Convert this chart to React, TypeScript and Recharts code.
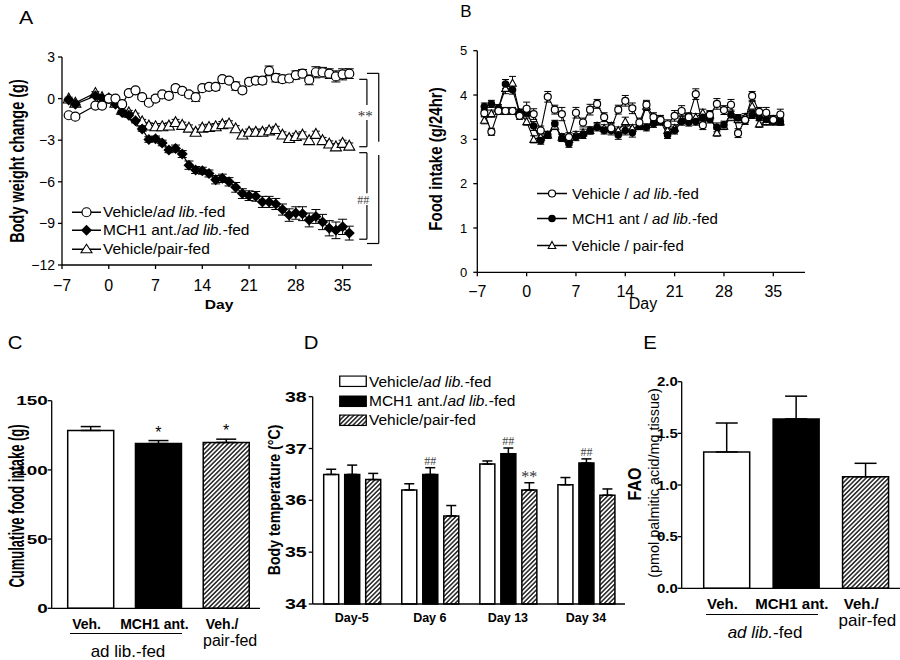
import React from 'react';
import {
  LineChart, Line, BarChart, Bar, XAxis, YAxis, ErrorBar,
  ReferenceLine, ReferenceDot, LabelList, Cell,
} from 'recharts';

const FONT = '"Liberation Sans", Arial, Helvetica, sans-serif';
const SERIF = '"Liberation Serif", "Times New Roman", serif';

// ---------- A: body weight change (g) ----------
const daysA = [-6, -5, -2, -1, 0, 1, 2, 3, 4, 5, 6, 7, 8, 9, 10, 11, 12, 13, 14, 15, 16, 17, 18, 19, 20,
  21, 22, 23, 24, 25, 26, 27, 28, 29, 30, 31, 32, 33, 34, 35, 36];
const vehWeight = [-1.2, -1.3, -0.5, -0.5, 0,
  0, -0.4, 0.4, 0.6, 0.1, -0.3, 0, 0.3, 0.2, 0.75,
  0.55, 0.3, 0.1, 0.75, 0.85, 0.85, 1.4, 1.3, 0.9, 0.6,
  1.2, 1.3, 1.3, 2.0, 1.5, 1.4, 1.45, 1.7, 1.8, 1.35,
  1.9, 1.9, 1.8, 1.6, 1.75, 1.8];
const vehWeightErr = [0.1, 0.1, 0.1, 0.1, 0.05,
  0.1, 0.15, 0.15, 0.15, 0.15, 0.15, 0.2, 0.2, 0.2, 0.2,
  0.2, 0.2, 0.3, 0.2, 0.2, 0.25, 0.2, 0.2, 0.3, 0.2,
  0.2, 0.25, 0.25, 0.35, 0.3, 0.25, 0.25, 0.3, 0.3, 0.35,
  0.4, 0.35, 0.35, 0.4, 0.4, 0.35];
const mchWeight = [-0.1, -0.4, 0.2, 0, 0,
  -0.4, -1.0, -1.2, -1.6, -2.2, -2.95, -2.9, -3.2, -3.7, -3.6,
  -4.0, -4.8, -5.15, -5.2, -5.4, -5.85, -5.75, -6.0, -6.4, -6.85,
  -7.0, -7.05, -7.45, -7.45, -7.6, -8.0, -8.4, -8.25, -8.3, -8.75,
  -8.5, -8.9, -9.35, -9.5, -9.25, -9.7];
const mchWeightErr = [0.1, 0.1, 0.1, 0.1, 0.05,
  0.1, 0.15, 0.15, 0.15, 0.15, 0.2, 0.2, 0.2, 0.2, 0.25,
  0.25, 0.3, 0.25, 0.25, 0.25, 0.3, 0.3, 0.3, 0.35, 0.35,
  0.35, 0.35, 0.4, 0.4, 0.4, 0.4, 0.45, 0.45, 0.5, 0.5,
  0.5, 0.55, 0.55, 0.6, 0.55, 0.5];
const pairWeight = [0, -0.3, 0.4, 0.1, 0,
  -0.3, -0.8, -1.0, -1.2, -1.65, -1.95, -2.0, -2.0, -1.95, -1.7,
  -1.9, -2.1, -2.4, -2.1, -2.05, -2.0, -1.85, -1.8, -2.15, -2.6,
  -2.4, -2.4, -2.4, -2.3, -2.2, -2.6, -2.85, -2.7, -2.6, -3.0,
  -2.55, -3.0, -3.25, -3.45, -3.2, -3.4];
const pairWeightErr = [0.1, 0.1, 0.1, 0.1, 0.05,
  0.1, 0.15, 0.15, 0.15, 0.15, 0.2, 0.2, 0.2, 0.2, 0.2,
  0.2, 0.2, 0.2, 0.2, 0.2, 0.2, 0.2, 0.2, 0.2, 0.2,
  0.2, 0.2, 0.2, 0.2, 0.2, 0.2, 0.2, 0.2, 0.2, 0.2,
  0.2, 0.2, 0.2, 0.2, 0.2, 0.2];
const dayTicks = [-7, 0, 7, 14, 21, 28, 35];
const weightTicks = [-12, -9, -6, -3, 0, 3];

// ---------- B: food intake (g/24hr) ----------
const daysB = [-6, -5, -4, -3, -2, -1, 0, 1, 2, 3, 4, 5, 6, 7, 8, 9, 10, 11, 12, 13, 14, 15, 16, 17, 18, 19, 20,
  21, 22, 23, 24, 25, 26, 27, 28, 29, 30, 31, 32, 33, 34, 35, 36];
const vehIntake = [3.59, 3.17, 3.64, 3.64, 3.64, 3.53, 3.69,
  3.57, 3.2, 3.96, 3.67, 3.57, 3.05, 3.6, 3.38, 3.67, 3.8,
  3.5, 3.25, 3.67, 3.87, 3.7, 3.38, 3.78, 3.5, 3.44, 3.34,
  3.53, 3.64, 3.5, 4.02, 3.32, 3.55, 3.8, 3.66, 3.78, 3.14,
  3.44, 3.98, 3.62, 3.6, 3.44, 3.56];
const vehIntakeErr = [0.08, 0.08, 0.08, 0.08, 0.08, 0.08, 0.15,
  0.12, 0.1, 0.12, 0.1, 0.15, 0.1, 0.12, 0.1, 0.12, 0.1,
  0.1, 0.1, 0.1, 0.12, 0.12, 0.1, 0.1, 0.1, 0.1, 0.1,
  0.12, 0.12, 0.1, 0.12, 0.1, 0.1, 0.12, 0.1, 0.12, 0.1,
  0.1, 0.1, 0.1, 0.12, 0.1, 0.12];
const mchIntake = [3.74, 3.8, 3.7, 4.25, 4.12, 3.6, 3.6,
  3.3, 2.97, 3.1, 3.35, 3.03, 2.9, 3.05, 3.1, 3.2, 3.27,
  3.2, 3.2, 3.1, 3.2, 3.15, 3.3, 3.27, 3.35, 3.4, 3.1,
  3.2, 3.4, 3.38, 3.4, 3.5, 3.45, 3.27, 3.33, 3.55, 3.48,
  3.42, 3.55, 3.5, 3.45, 3.4, 3.4];
const mchIntakeErr = [0.08, 0.08, 0.08, 0.1, 0.1, 0.08, 0.08,
  0.1, 0.08, 0.08, 0.08, 0.08, 0.08, 0.08, 0.08, 0.08, 0.08,
  0.08, 0.1, 0.1, 0.1, 0.1, 0.08, 0.08, 0.08, 0.08, 0.08,
  0.08, 0.08, 0.08, 0.08, 0.08, 0.08, 0.1, 0.08, 0.08, 0.08,
  0.08, 0.08, 0.08, 0.08, 0.08, 0.08];
const pairIntake = [3.43, 3.58, 3.7, 4.15, 4.27, 3.6, 3.4,
  3.0, 3.05, 3.1, 3.3, 3.05, 3.0, 3.1, 3.15, 3.2, 3.3,
  3.25, 3.3, 3.2, 3.4, 3.25, 3.3, 3.75, 3.4, 3.45, 3.2,
  3.25, 3.45, 3.5, 3.5, 3.6, 3.55, 3.15, 3.3, 3.5, 3.45,
  3.5, 3.75, 3.35, 3.4, 3.45, 3.4];
const pairIntakeErr = [0.08, 0.08, 0.08, 0.12, 0.15, 0.08, 0.08,
  0.08, 0.08, 0.08, 0.08, 0.08, 0.08, 0.08, 0.08, 0.08, 0.08,
  0.08, 0.08, 0.08, 0.1, 0.08, 0.08, 0.1, 0.08, 0.08, 0.08,
  0.08, 0.08, 0.08, 0.08, 0.08, 0.08, 0.08, 0.08, 0.08, 0.08,
  0.08, 0.1, 0.08, 0.08, 0.08, 0.08];
const intakeTicks = [0, 1, 2, 3, 4, 5];

// ---------- C: cumulative food intake (g) ----------
const groups = ['Veh.', 'MCH1 ant.', 'Veh./pair-fed'];
const cumIntake = [128.5, 119, 119.8];
const cumIntakeErr = [2.8, 2.2, 2.4];
const cumIntakeMarks = ['', '*', '*'];
const cumTicks = [0, 50, 100, 150];

// ---------- D: body temperature (°C) ----------
const tempDays = ['Day-5', 'Day 6', 'Day 13', 'Day 34'];
const tempVeh = [36.5, 36.2, 36.7, 36.3];
const tempVehErr = [0.1, 0.12, 0.06, 0.14];
const tempMch = [36.5, 36.5, 36.9, 36.72];
const tempMchErr = [0.18, 0.13, 0.11, 0.08];
const tempPair = [36.4, 35.7, 36.2, 36.1];
const tempPairErr = [0.12, 0.2, 0.14, 0.12];
const tempMchMarks = ['', '##', '##', '##'];
const tempPairMarks = ['', '', '**', ''];
const tempTicks = [34, 35, 36, 37, 38];

// ---------- E: FAO ----------
const fao = [1.32, 1.64, 1.08];
const faoErr = [0.28, 0.22, 0.13];
const faoTicks = [0, 0.5, 1, 1.5, 2];

const dataA = daysA.map((day, i) => ({
  day, veh: vehWeight[i], vehErr: vehWeightErr[i], mch: mchWeight[i], mchErr: mchWeightErr[i],
  pair: pairWeight[i], pairErr: pairWeightErr[i],
}));
const dataB = daysB.map((day, i) => ({
  day, veh: vehIntake[i], vehErr: vehIntakeErr[i], mch: mchIntake[i], mchErr: mchIntakeErr[i],
  pair: pairIntake[i], pairErr: pairIntakeErr[i],
}));
const dataC = groups.map((g, i) => ({ g, v: cumIntake[i], e: [0, cumIntakeErr[i]], m: cumIntakeMarks[i] }));
const dataD = tempDays.map((d, i) => ({
  d, veh: tempVeh[i], vehE: [0, tempVehErr[i]], mch: tempMch[i], mchE: [0, tempMchErr[i]],
  pair: tempPair[i], pairE: [0, tempPairErr[i]], mchM: tempMchMarks[i], pairM: tempPairMarks[i],
}));
const dataE = groups.map((g, i) => ({ g, v: fao[i], e: [0, faoErr[i]] }));

const barFills = ['#fff', '#000', 'url(#hatch)'];
const axis = { stroke: '#000', strokeWidth: 1.3 };
const minus = (v: number) => (v < 0 ? `\u2212${Math.abs(v)}` : String(v));

type TickOpts = { size: number; bold?: boolean; sx?: number; dy: number; fmt?: (v: any) => string };
const makeTick = (o: TickOpts) => (p: any) => (
  <g transform={`translate(${p.x},${p.y})`}>
    <text transform={`scale(${o.sx ?? 1},1)`} textAnchor={p.textAnchor} dy={o.dy} fontSize={o.size}
      fontWeight={o.bold ? 700 : 400} fontFamily={FONT} fill="#000">
      {o.fmt ? o.fmt(p.payload.value) : String(p.payload.value)}
    </text>
  </g>
);

// two-line category tick: "Veh./" (bold) over "pair-fed" (plain)
const groupTick = (size: number, subSize: number, dy1: number, dy2: number, subDx: number) => (p: any) => {
  const v = String(p.payload.value);
  const cut = v.indexOf('/');
  const top = cut >= 0 ? v.slice(0, cut + 1) : v;
  const sub = cut >= 0 ? v.slice(cut + 1) : '';
  return (
    <g transform={`translate(${p.x},${p.y})`}>
      <text x={-4} dy={dy1} textAnchor="middle" fontSize={size} fontWeight={700} fontFamily={FONT} fill="#000">{top}</text>
      {sub && (
        <text x={subDx} dy={dy2} textAnchor="middle" fontSize={subSize} fontFamily={FONT} fill="#000">{sub}</text>
      )}
    </g>
  );
};

// significance marks placed above the error bar of each bar
const markContent = (vals: number[], errs: number[], base: number, size: number, family: string, color: string, lift: number) =>
  (p: any) => {
    const text = p.value;
    if (!text) return null;
    const vb = p.viewBox && p.viewBox.width !== undefined ? p.viewBox : p;
    const i = typeof p.index === 'number' ? p.index : 0;
    const x = Number(vb.x), y = Number(vb.y), w = Number(vb.width), h = Number(vb.height);
    const top = y - errs[i] * (h / (vals[i] - base));
    return (
      <text x={x + w / 2} y={top - lift} textAnchor="middle" fontSize={size} fontFamily={family} fill={color}>{text}</text>
    );
  };

const openCircle = (r: number) => (p: any) => (
  <circle key={`oc${p.index}`} cx={p.cx} cy={p.cy} r={r} fill="#fff" stroke="#000" strokeWidth={1.2} />
);
const filledCircle = (r: number) => (p: any) => (
  <circle key={`fc${p.index}`} cx={p.cx} cy={p.cy} r={r} fill="#000" />
);
const diamond = (s: number) => (p: any) => (
  <polygon key={`dm${p.index}`} fill="#000"
    points={`${p.cx},${p.cy - s} ${p.cx + s},${p.cy} ${p.cx},${p.cy + s} ${p.cx - s},${p.cy}`} />
);
const triangle = (s: number) => (p: any) => (
  <polygon key={`tr${p.index}`} fill="#fff" stroke="#000" strokeWidth={1.1}
    points={`${p.cx},${p.cy - s} ${p.cx + s},${p.cy + s * 0.8} ${p.cx - s},${p.cy + s * 0.8}`} />
);

type TxtProps = {
  x: number; y: number; size: number; bold?: boolean; rot?: boolean; stretch?: number;
  family?: string; color?: string; children: React.ReactNode;
};
const Txt = ({ x, y, size, bold, rot, stretch = 1, family = FONT, color = '#000', children }: TxtProps) => (
  <div style={{
    position: 'absolute', left: x, top: y, fontSize: size, fontWeight: bold ? 700 : 400, fontFamily: family,
    color, lineHeight: 1, whiteSpace: 'nowrap',
    transform: `translate(-50%, -50%)${rot ? ' rotate(-90deg)' : ''} ${rot ? `scale(1, ${stretch})` : `scale(${stretch}, 1)`}`,
  }}>
    {children}
  </div>
);

const LegendRow = ({ x, y, size, icon, gap, children }: { x: number; y: number; size: number; icon: React.ReactNode; gap: number; children: React.ReactNode }) => (
  <div style={{
    position: 'absolute', left: x, top: y, transform: 'translateY(-50%)', display: 'flex', alignItems: 'center',
    fontFamily: FONT, fontSize: size, lineHeight: 1, whiteSpace: 'nowrap',
  }}>
    <span style={{ display: 'inline-flex', marginRight: gap }}>{icon}</span>
    <span>{children}</span>
  </div>
);

const lineIcon = (w: number, marker: React.ReactNode) => (
  <svg width={w} height={14}>
    <line x1={0} y1={7} x2={w} y2={7} stroke="#000" strokeWidth={1.3} />
    {marker}
  </svg>
);
const boxIcon = (fill: string) => (
  <svg width={28} height={12}>
    <rect x={0.75} y={0.75} width={26.5} height={10.5} fill={fill} stroke="#000" strokeWidth={1.3} />
  </svg>
);

// bracket segments (days, g) drawn to the right of panel A
const bracketSegs: [number, number, number, number][] = [
  [37.49, 1.39, 38.64, 1.39], [38.64, 1.39, 38.64, -0.46], [38.64, -1.54, 38.64, -3.47], [37.49, -3.47, 38.64, -3.47],
  [37.49, -3.9, 38.64, -3.9], [38.64, -3.9, 38.64, -6.83], [38.64, -7.67, 38.64, -10.14], [37.49, -10.14, 38.64, -10.14],
  [38.64, 1.82, 40.41, 1.82], [40.41, 1.82, 40.41, -3.11], [40.41, -4.07, 40.41, -10.45], [38.64, -10.45, 40.41, -10.45],
];

const PanelA = () => (
  <div style={{ position: 'absolute', left: 0, top: 0 }}>
    <LineChart width={400} height={320} data={dataA} margin={{ top: 57, right: 28, bottom: 25, left: 0 }}
      style={{ fontFamily: FONT }}>
      <XAxis type="number" dataKey="day" domain={[-7, 39.4]} ticks={dayTicks} height={30}
        axisLine={axis} tickLine={axis} tickSize={4} tickMargin={0}
        tick={makeTick({ size: 16, dy: 21.5, fmt: minus })} />
      <YAxis type="number" domain={[-12, 3]} ticks={weightTicks} width={62}
        axisLine={axis} tickLine={axis} tickSize={4} tickMargin={3}
        tick={makeTick({ size: 14, dy: 5, fmt: minus })} />
      {bracketSegs.map(([x1, y1, x2, y2], i) => (
        <ReferenceLine key={`br${i}`} segment={[{ x: x1, y: y1 }, { x: x2, y: y2 }]}
          stroke="#000" strokeWidth={1.2} ifOverflow="visible" />
      ))}
      <ReferenceDot x={38.4} y={-1.2} r={1} fill="none" stroke="none" ifOverflow="visible"
        label={{ value: '**', position: 'center', fontSize: 15, fill: '#333', fontFamily: SERIF }} />
      <ReferenceDot x={38.1} y={-7.3} r={1} fill="none" stroke="none" ifOverflow="visible"
        label={{ value: '##', position: 'center', fontSize: 12, fill: '#444', fontFamily: SERIF }} />
      <Line dataKey="pair" stroke="#000" strokeWidth={1.2} isAnimationActive={false} dot={triangle(5.5)} activeDot={false}>
        <ErrorBar dataKey="pairErr" width={4} stroke="#000" strokeWidth={1} direction="y" />
      </Line>
      <Line dataKey="mch" stroke="#000" strokeWidth={1.2} isAnimationActive={false} dot={diamond(5.5)} activeDot={false}>
        <ErrorBar dataKey="mchErr" width={4.5} stroke="#000" strokeWidth={1} direction="y" />
      </Line>
      <Line dataKey="veh" stroke="#000" strokeWidth={1.2} isAnimationActive={false} dot={openCircle(4.5)} activeDot={false}>
        <ErrorBar dataKey="vehErr" width={4.5} stroke="#000" strokeWidth={1} direction="y" />
      </Line>
    </LineChart>
    <Txt x={16.7} y={161} size={14.5} bold rot stretch={1.4}>Body weight change (g)</Txt>
    <Txt x={219} y={303.5} size={13} bold stretch={1.2}>Day</Txt>
    <LegendRow x={72} y={212} size={15.5} gap={2}
      icon={lineIcon(29, <circle cx={14.5} cy={7} r={4.5} fill="#fff" stroke="#000" strokeWidth={1.2} />)}>
      Vehicle/<i>ad lib.</i>-fed
    </LegendRow>
    <LegendRow x={72} y={230} size={15.5} gap={2}
      icon={lineIcon(29, <polygon points="14.5,1.5 20,7 14.5,12.5 9,7" fill="#000" />)}>
      MCH1 ant./<i>ad lib.</i>-fed
    </LegendRow>
    <LegendRow x={72} y={249.3} size={15.5} gap={2}
      icon={lineIcon(29, <polygon points="14.5,2 20,10.5 9,10.5" fill="#fff" stroke="#000" strokeWidth={1.1} />)}>
      Vehicle/pair-fed
    </LegendRow>
  </div>
);

const PanelB = () => (
  <div style={{ position: 'absolute', left: 400, top: 0, width: 420, height: 320 }}>
    <LineChart width={420} height={320} data={dataB} margin={{ top: 50.7, right: 15, bottom: 17.7, left: 0 }}
      style={{ fontFamily: FONT }}>
      <XAxis type="number" dataKey="day" domain={[-7, 39.5]} ticks={dayTicks} height={30}
        axisLine={axis} tickLine={axis} tickSize={4} tickMargin={0}
        tick={makeTick({ size: 16, dy: 20.4, fmt: minus })} />
      <YAxis type="number" domain={[0, 5]} ticks={intakeTicks} width={77.3}
        axisLine={axis} tickLine={axis} tickSize={4} tickMargin={6}
        tick={makeTick({ size: 13, dy: 4.6 })} />
      <Line dataKey="pair" stroke="#000" strokeWidth={1.1} isAnimationActive={false} dot={triangle(3.8)} activeDot={false}>
        <ErrorBar dataKey="pairErr" width={3.5} stroke="#000" strokeWidth={1} direction="y" />
      </Line>
      <Line dataKey="mch" stroke="#000" strokeWidth={1.1} isAnimationActive={false} dot={filledCircle(3.8)} activeDot={false}>
        <ErrorBar dataKey="mchErr" width={3.5} stroke="#000" strokeWidth={1} direction="y" />
      </Line>
      <Line dataKey="veh" stroke="#000" strokeWidth={1.1} isAnimationActive={false} dot={openCircle(3.5)} activeDot={false}>
        <ErrorBar dataKey="vehErr" width={3.5} stroke="#000" strokeWidth={1} direction="y" />
      </Line>
    </LineChart>
  </div>
);

const BLegendAndTitles = () => (
  <>
    <Txt x={435} y={159} size={15} bold rot stretch={1.2}>Food intake (g/24hr)</Txt>
    <Txt x={643} y={304} size={16}>Day</Txt>
    <LegendRow x={537} y={193.3} size={15} gap={5}
      icon={lineIcon(30, <circle cx={15} cy={7} r={3.5} fill="#fff" stroke="#000" strokeWidth={1.2} />)}>
      Vehicle / <i>ad lib.</i>-fed
    </LegendRow>
    <LegendRow x={537} y={218.3} size={15} gap={5}
      icon={lineIcon(30, <circle cx={15} cy={7} r={3.8} fill="#000" />)}>
      MCH1 ant / <i>ad lib.</i>-fed
    </LegendRow>
    <LegendRow x={537} y={245} size={15} gap={5}
      icon={lineIcon(30, <polygon points="15,3 18.8,10 11.2,10" fill="#fff" stroke="#000" strokeWidth={1.1} />)}>
      Vehicle / pair-fed
    </LegendRow>
  </>
);

const PanelC = () => (
  <div style={{ position: 'absolute', left: 0, top: 330 }}>
    <BarChart width={270} height={330} data={dataC} margin={{ top: 70.7, right: 10, bottom: 21.7, left: 0 }}
      style={{ fontFamily: FONT }}>
      <XAxis dataKey="g" height={30} padding={{ left: 5, right: 0 }} interval={0}
        axisLine={axis} tickLine={false} tickSize={0} tickMargin={0}
        tick={groupTick(14, 16, 20.5, 37.4, 4)} />
      <YAxis type="number" domain={[0, 150]} ticks={cumTicks} width={51.7}
        axisLine={axis} tickLine={axis} tickSize={4} tickMargin={0}
        tick={makeTick({ size: 13, bold: true, sx: 1.45, dy: 4.7 })} />
      <Bar dataKey="v" barSize={46} stroke="#000" strokeWidth={1.5} isAnimationActive={false}>
        {dataC.map((d, i) => <Cell key={d.g} fill={barFills[i]} />)}
        <ErrorBar dataKey="e" width={10} stroke="#000" strokeWidth={1.5} direction="y" />
        <LabelList dataKey="m" content={markContent(cumIntake, cumIntakeErr, 0, 16, FONT, '#000', 3)} />
      </Bar>
    </BarChart>
    <Txt x={16} y={176} size={13} bold rot stretch={1.75}>Cumulative food intake (g)</Txt>
    <div style={{ position: 'absolute', left: 70, top: 303, width: 112, borderTop: '1px solid #000' }} />
    <Txt x={128} y={320.5} size={17}>ad lib.-fed</Txt>
  </div>
);

const PanelD = () => (
  <div style={{ position: 'absolute', left: 260, top: 330 }}>
    <BarChart width={380} height={330} data={dataD} margin={{ top: 66.7, right: 15, bottom: 26, left: 0 }}
      barGap={6} style={{ fontFamily: FONT }}>
      <XAxis dataKey="d" height={30} interval={0}
        axisLine={axis} tickLine={false} tickSize={0} tickMargin={0}
        tick={makeTick({ size: 12.5, bold: true, dy: 17.5 })} />
      <YAxis type="number" domain={[34, 38]} ticks={tempTicks} width={52.7}
        axisLine={axis} tickLine={axis} tickSize={4} tickMargin={2}
        tick={makeTick({ size: 14, bold: true, sx: 1.4, dy: 5 })} />
      <Bar dataKey="veh" barSize={15} fill="#fff" stroke="#000" strokeWidth={1.5} isAnimationActive={false}>
        <ErrorBar dataKey="vehE" width={5} stroke="#000" strokeWidth={1.5} direction="y" />
      </Bar>
      <Bar dataKey="mch" barSize={15} fill="#000" stroke="#000" strokeWidth={1.5} isAnimationActive={false}>
        <ErrorBar dataKey="mchE" width={5} stroke="#000" strokeWidth={1.5} direction="y" />
        <LabelList dataKey="mchM" content={markContent(tempMch, tempMchErr, 34, 12, SERIF, '#444', 3)} />
      </Bar>
      <Bar dataKey="pair" barSize={15} fill="url(#hatch)" stroke="#000" strokeWidth={1.5} isAnimationActive={false}>
        <ErrorBar dataKey="pairE" width={5} stroke="#000" strokeWidth={1.5} direction="y" />
        <LabelList dataKey="pairM" content={markContent(tempPair, tempPairErr, 34, 16, SERIF, '#333', 1)} />
      </Bar>
    </BarChart>
    <Txt x={14} y={170} size={14.2} bold rot stretch={1.2}>Body temperature (°C)</Txt>
    <LegendRow x={79} y={51.7} size={15.5} gap={2} icon={boxIcon('#fff')}>Vehicle/<i>ad lib.</i>-fed</LegendRow>
    <LegendRow x={79} y={71} size={15.5} gap={2} icon={boxIcon('#000')}>MCH1 ant./<i>ad lib.</i>-fed</LegendRow>
    <LegendRow x={79} y={90} size={15.5} gap={2} icon={boxIcon('url(#hatch)')}>Vehicle/pair-fed</LegendRow>
  </div>
);

const PanelE = () => (
  <div style={{ position: 'absolute', left: 600, top: 330 }}>
    <BarChart width={300} height={330} data={dataE} margin={{ top: 51.7, right: 0, bottom: 41.7, left: 0 }}
      style={{ fontFamily: FONT }}>
      <XAxis dataKey="g" height={30} padding={{ left: 10, right: 0 }} interval={0}
        axisLine={axis} tickLine={false} tickSize={0} tickMargin={0}
        tick={groupTick(15, 17, 21, 37.5, 2)} />
      <YAxis type="number" domain={[0, 2]} ticks={faoTicks} width={81.7}
        axisLine={axis} tickLine={axis} tickSize={4} tickMargin={0}
        tick={makeTick({ size: 13, bold: true, sx: 1.15, dy: 4.7, fmt: (v: number) => v.toFixed(1) })} />
      <Bar dataKey="v" barSize={46} stroke="#000" strokeWidth={1.5} isAnimationActive={false}>
        {dataE.map((d, i) => <Cell key={d.g} fill={barFills[i]} />)}
        <ErrorBar dataKey="e" width={11} stroke="#000" strokeWidth={1.5} direction="y" />
      </Bar>
    </BarChart>
    <Txt x={35} y={153.5} size={16} bold rot stretch={1.2}>FAO</Txt>
    <Txt x={54} y={152.5} size={14.4} rot>(pmol palmitic acid/mg tissue)</Txt>
    <div style={{ position: 'absolute', left: 106, top: 284, width: 112, borderTop: '1px solid #000' }} />
    <Txt x={165} y={302} size={17}><i>ad lib.</i>-fed</Txt>
  </div>
);

export default function App() {
  return (
    <div style={{
      position: 'absolute', left: 0, top: 0, width: 900, height: 660, background: '#fff',
      fontFamily: FONT, overflow: 'hidden',
    }}>
      <svg width={0} height={0} style={{ position: 'absolute' }}>
        <defs>
          <pattern id="hatch" patternUnits="userSpaceOnUse" width={3.2} height={3.2} patternTransform="rotate(45)">
            <rect width={3.2} height={3.2} fill="#fff" />
            <line x1={1.6} y1={0} x2={1.6} y2={3.2} stroke="#000" strokeWidth={1.3} />
          </pattern>
        </defs>
      </svg>
      <PanelA />
      <PanelB />
      <BLegendAndTitles />
      <PanelC />
      <PanelD />
      <PanelE />
      <Txt x={26} y={18} size={18.5} stretch={1.15}>A</Txt>
      <Txt x={466} y={11} size={17}>B</Txt>
      <Txt x={15} y={343} size={18.5} stretch={1.1}>C</Txt>
      <Txt x={311} y={343} size={18.5} stretch={1.1}>D</Txt>
      <Txt x={650} y={343} size={18.5} stretch={1.1}>E</Txt>
    </div>
  );
}
